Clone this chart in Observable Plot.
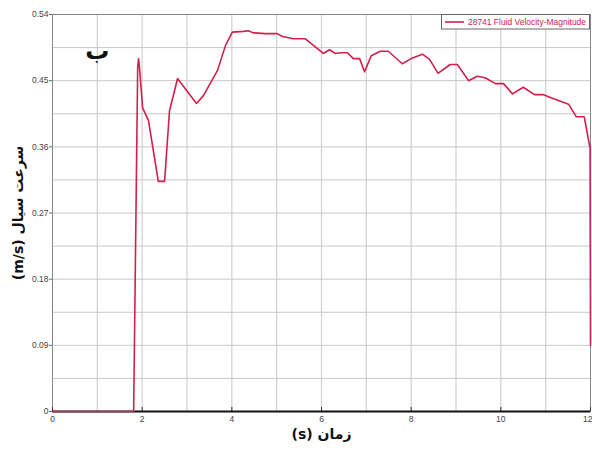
<!DOCTYPE html>
<html>
<head>
<meta charset="utf-8">
<script src="https://cdn.jsdelivr.net/npm/d3@7"></script>
<script src="https://cdn.jsdelivr.net/npm/@observablehq/plot@0.6"></script>
<style>
  html, body { margin: 0; padding: 0; background: #fff; }
</style>
</head>
<body>
<div id="chart"></div>
<script>
const seriesName = "28741 Fluid Velocity-Magnitude";
const times  = [0, 1.81, 1.90, 1.92, 1.94, 2.01, 2.14, 2.36, 2.50, 2.61, 2.79, 3.21, 3.37, 3.68, 3.86, 4.01, 4.26, 4.37, 4.48, 4.75, 5.01, 5.13, 5.37, 5.64, 5.82, 6.04, 6.18, 6.31, 6.42, 6.58, 6.71, 6.85, 6.96, 7.11, 7.31, 7.49, 7.80, 8.03, 8.25, 8.41, 8.60, 8.87, 9.03, 9.28, 9.47, 9.65, 9.88, 10.06, 10.26, 10.50, 10.75, 10.95, 11.15, 11.51, 11.68, 11.86, 11.99, 12.0];
const speeds = [0, 0, 0.468, 0.480, 0.468, 0.413, 0.396, 0.313, 0.313, 0.409, 0.453, 0.419, 0.430, 0.464, 0.498, 0.516, 0.517, 0.518, 0.515, 0.514, 0.514, 0.510, 0.507, 0.507, 0.498, 0.487, 0.492, 0.487, 0.488, 0.488, 0.480, 0.480, 0.462, 0.484, 0.490, 0.490, 0.473, 0.481, 0.486, 0.479, 0.460, 0.472, 0.472, 0.450, 0.456, 0.454, 0.446, 0.446, 0.432, 0.441, 0.431, 0.431, 0.426, 0.418, 0.401, 0.401, 0.358, 0.09];
const xTicks = [0, 2, 4, 6, 8, 10, 12];
const yTicks = [0, 0.09, 0.18, 0.27, 0.36, 0.45, 0.54];
const xGrid = [1, 2, 3, 4, 5, 6, 7, 8, 9, 10, 11];
const yGrid = [0.045, 0.09, 0.135, 0.18, 0.225, 0.27, 0.315, 0.36, 0.405, 0.45, 0.495];
const xTitle = "زمان (s)";
const yTitle = "سرعت سیال (m/s)";
const panelLabel = "ب";

const data = times.map((t, i) => ({t, v: speeds[i]}));
const lineColor = "#d2204c";
const xMax = xTicks[xTicks.length - 1];

const plot = Plot.plot({
  width: 592,
  height: 450,
  marginLeft: 52,
  marginRight: 2,
  marginTop: 14,
  marginBottom: 39,
  style: {fontFamily: "'Liberation Sans', Arial, sans-serif", fontSize: "8.5px", color: "#444", background: "#fff"},
  x: {domain: [0, 12], label: null},
  y: {domain: [0, 0.54], label: null},
  marks: [
    Plot.gridX(xGrid, {stroke: "#d4d4d4", strokeOpacity: 1, strokeWidth: 1.3}),
    Plot.gridY(yGrid, {stroke: "#c8c8c8", strokeOpacity: 1}),
    Plot.frame({stroke: "#888"}),
    Plot.axisY(yTicks, {tickSize: 3, tickPadding: 1, tickFormat: d => d === 0 ? "0" : d.toFixed(2), stroke: "#666", label: null}),
    Plot.axisX(xTicks.filter(d => d !== xMax), {tickSize: 0, tickPadding: 4, tickFormat: d => String(d), label: null}),
    Plot.axisX([xMax], {tickSize: 0, tickPadding: 4, tickFormat: d => String(d), textAnchor: "end", dx: 2, label: null}),
    Plot.ruleX(xTicks, {y1: 0, y2: 0, insetTop: -4, stroke: "#333"}),
    Plot.ruleY([0], {stroke: "#111", strokeWidth: 2}),
    Plot.line(data, {x: "t", y: "v", stroke: lineColor, strokeWidth: 1.6}),
    Plot.text([panelLabel], {x: 1, y: 0.49, fontSize: 24, fontWeight: "bold", fill: "#111", fontFamily: "'DejaVu Sans', sans-serif"}),
    Plot.text([xTitle], {frameAnchor: "bottom", dy: 27, fontSize: 14, fontWeight: "bold", fill: "#111", textAnchor: "middle", fontFamily: "'DejaVu Sans', sans-serif", className: "rtl-title"}),
    Plot.text([yTitle], {frameAnchor: "left", dx: -34, rotate: -90, fontSize: 14, fontWeight: "bold", fill: "#111", textAnchor: "middle", fontFamily: "'DejaVu Sans', sans-serif", className: "rtl-title"})
  ]
});

const svg = d3.select(plot);
svg.selectAll(".rtl-title text").attr("direction", "rtl").style("direction", "rtl").style("unicode-bidi", "embed");

// legend box (top-right)
const lg = svg.append("g").attr("text-anchor", "start");
lg.append("rect").attr("x", 441.5).attr("y", 14.5).attr("width", 148).attr("height", 14.5)
  .attr("fill", "#fff").attr("stroke", "#666");
lg.append("line").attr("x1", 445).attr("x2", 464).attr("y1", 22).attr("y2", 22)
  .attr("stroke", lineColor).attr("stroke-width", 1.6);
lg.append("text").attr("x", 468).attr("y", 25).attr("fill", lineColor).attr("text-anchor", "start")
  .attr("font-size", 8.5).attr("textLength", 118).attr("lengthAdjust", "spacingAndGlyphs")
  .attr("font-family", "'Liberation Sans', Arial, sans-serif").text(seriesName);

document.getElementById("chart").appendChild(plot);
</script>
</body>
</html>
